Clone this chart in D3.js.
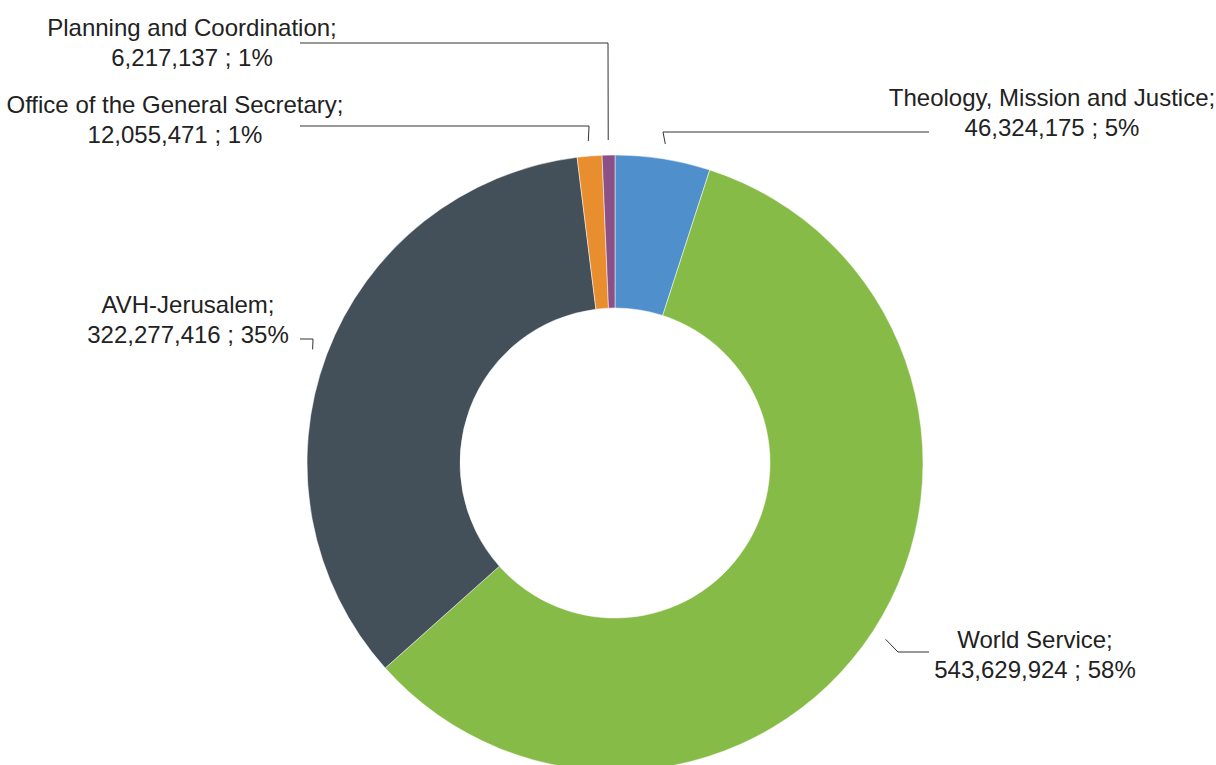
<!DOCTYPE html>
<html>
<head>
<meta charset="utf-8">
<script src="https://cdn.jsdelivr.net/npm/d3@7"></script>
<style>
  html, body { margin: 0; padding: 0; background: #fff; }
  svg { display: block; }
  .label { font-family: "Liberation Sans", Arial, sans-serif; font-size: 24px; fill: #222; }
  .leader { fill: none; stroke: #333; stroke-width: 1; }
</style>
</head>
<body>
<div id="chart"></div>
<script>
// budget by programme, clockwise from 12 o'clock
const categories = [
  'Theology, Mission and Justice',
  'World Service',
  'AVH-Jerusalem',
  'Office of the General Secretary',
  'Planning and Coordination'
];
const values = [46324175, 543629924, 322277416, 12055471, 6217137];
const percentLabels = ['5%', '58%', '35%', '1%', '1%'];
const colors = ['#4f8fcc', '#87bb47', '#434f59', '#e88e2e', '#8b5186'];

const width = 1216, height = 765;
const cx = 615, cy = 463;
const outerR = 308, innerR = 155, leaderR = 323;

// where each label sits and how its leader bends
const layout = [
  { x: 1052, y: 106, elbow: [663, 132], end: [929, 132] },
  { x: 1035, y: 648, elbow: [898, 652], end: [929, 652] },
  { x: 188, y: 313, elbow: [313, 339], end: [300, 339] },
  { x: 175, y: 113, elbow: [589, 126], end: [300, 126] },
  { x: 192, y: 36, elbow: [608, 43], end: [300, 43] }
];

const fmt = d3.format(',');

const svg = d3.select('#chart')
  .append('svg')
  .attr('width', width)
  .attr('height', height);

const g = svg.append('g')
  .attr('transform', `translate(${cx},${cy})`);

const pie = d3.pie()
  .sort(null)
  .value(d => d);

const arcs = pie(values);

const arc = d3.arc()
  .innerRadius(innerR)
  .outerRadius(outerR);

g.selectAll('.slice')
  .data(arcs)
  .enter()
    .append('path')
    .attr('class', 'slice')
    .attr('d', arc)
    .attr('fill', (d, i) => colors[i])
    .attr('stroke', '#fff')
    .attr('stroke-width', 0.5);

// leader lines start just outside the ring at each slice's mid angle
const anchor = d => {
  const a = (d.startAngle + d.endAngle) / 2;
  return [cx + leaderR * Math.sin(a), cy - leaderR * Math.cos(a)];
};

svg.selectAll('.leader')
  .data(arcs)
  .enter()
    .append('path')
    .attr('class', 'leader')
    .attr('d', (d, i) => d3.line()([anchor(d), layout[i].elbow, layout[i].end]));

const labels = svg.selectAll('.label')
  .data(arcs)
  .enter()
    .append('text')
    .attr('class', 'label')
    .attr('text-anchor', 'middle');

labels.append('tspan')
  .attr('x', (d, i) => layout[i].x)
  .attr('y', (d, i) => layout[i].y)
  .text((d, i) => categories[i] + ';');

labels.append('tspan')
  .attr('x', (d, i) => layout[i].x)
  .attr('y', (d, i) => layout[i].y + 30)
  .text((d, i) => fmt(d.value) + ' ; ' + percentLabels[i]);
</script>
</body>
</html>
